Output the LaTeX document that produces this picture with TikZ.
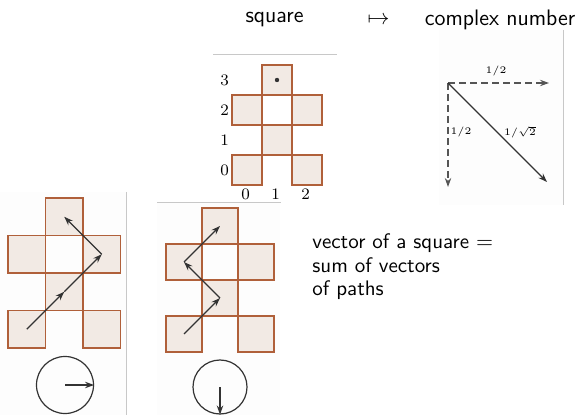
\documentclass[tikz,border=0pt]{standalone}
\usepackage{tikz}
\usetikzlibrary{arrows.meta, positioning}
\definecolor{cellfill}{HTML}{F2EAE4}
\definecolor{celledge}{HTML}{B0603A}
\definecolor{inkgray}{HTML}{333333}
\definecolor{dashgray}{HTML}{555555}
\definecolor{rulegray}{HTML}{C8C8C8}
\definecolor{panelbg}{HTML}{FDFDFD}
\tikzstyle{cell} = [draw=celledge, fill=cellfill, line width=0.7pt]
\tikzstyle{vec} = [-{Stealth[length=4.5pt, width=3.2pt]}, color=inkgray, line width=0.65pt]
\tikzstyle{halfvec} = [vec, color=dashgray, dash pattern=on 3.5pt off 2pt]
\tikzstyle{panelline} = [draw=rulegray, line width=0.5pt]
\tikzstyle{panel} = [fill=panelbg]
\tikzstyle{dial} = [circle, draw=inkgray, line width=0.6pt, inner sep=0pt]
\tikzstyle{lbl} = [font=\footnotesize, inner sep=1pt]
\tikzstyle{frac} = [font=\tiny, inner sep=1pt]
\tikzstyle{caption} = [font=\sffamily\fontsize{10.5}{11.75}\selectfont, inner sep=0pt]
\tikzstyle{heading} = [font=\sffamily\fontsize{11.2}{13}\selectfont, inner sep=0pt]

\begin{document}
\begin{tikzpicture}[x=0.5pt, y=-0.5pt]
    \useasboundingbox (0,0) rectangle (581,415);

    % Panels
    \fill[panel] (439,30) rectangle (563,205);
    \fill[panel] (0,192) rectangle (126,415);
    \fill[panel] (157,203) rectangle (280,415);
    \draw[panelline] (213,55) -- (337,55);
    \draw[panelline] (157,203) -- (281,203);
    \draw[panelline] (563,30) -- (563,205);
    \draw[panelline] (126,192) -- (126,415);

    % Header
    \node[heading] (sq) at (274.5,20) {square};
    \node[heading] (maps) at (378.5,20) {$\mapsto$};
    \node[heading] (cx) at (500,20) {complex number};

    % Labelled shape
    \begin{scope}[shift={(232,185)}, x=15pt, y=15pt]
      \foreach \c/\r in {1/3,0/2,2/2,1/1,0/0,2/0}
        \draw[cell] (\c,\r) rectangle ++(1,1);
      \foreach \r in {0,...,3}
        \node[lbl] (row\r) at (-0.25,\r+0.5) {$\r$};
      \foreach \c in {0,...,2}
        \node[lbl] (col\c) at (\c+0.45,-0.3) {$\c$};
      \fill[inkgray] (1.5,3.5) circle (1.1pt);
    \end{scope}

    % Unit vectors
    \coordinate (o) at (448,83);
    \coordinate (re) at (549,83);
    \coordinate (im) at (448,187);
    \coordinate (z) at (547,182);
    \draw[halfvec] (o) -- (re);
    \draw[halfvec] (o) -- (im);
    \draw[vec] (o) -- (z);
    \node[frac] (reLbl) at (496,71) {$1/2$};
    \node[frac] (imLbl) at (461,132) {$1/2$};
    \node[frac] (zLbl) at (520,132) {$1/\sqrt{2}$};

    % First path
    \begin{scope}[shift={(8,348)}, x=18.75pt, y=18.75pt]
      \foreach \c/\r in {1/3,0/2,2/2,1/1,0/0,2/0}
        \draw[cell] (\c,\r) rectangle ++(1,1);
      \coordinate (a0) at (0.5,0.5);
      \coordinate (a1) at (1.5,1.5);
      \coordinate (a2) at (2.5,2.5);
      \coordinate (a3) at (1.5,3.5);
    \end{scope}
    \draw[vec] (a0) -- (a1);
    \draw[vec] (a1) -- (a2);
    \draw[vec] (a2) -- (a3);
    \node[dial, minimum size=28.5pt] (dialA) at (65,385) {};
    \draw[vec] (dialA.center) -- (dialA.east);

    % Second path
    \begin{scope}[shift={(166,352)}, x=18pt, y=18pt]
      \foreach \c/\r in {1/3,0/2,2/2,1/1,0/0,2/0}
        \draw[cell] (\c,\r) rectangle ++(1,1);
      \coordinate (b0) at (0.5,0.5);
      \coordinate (b1) at (1.5,1.5);
      \coordinate (b2) at (0.5,2.5);
      \coordinate (b3) at (1.5,3.5);
    \end{scope}
    \draw[vec] (b0) -- (b1);
    \draw[vec] (b1) -- (b2);
    \draw[vec] (b2) -- (b3);
    \node[dial, minimum size=27pt] (dialB) at (220,387) {};
    \draw[vec] (dialB.center) -- (dialB.south);

    % Claim
    \node[caption, align=left, anchor=west] (claim) at (312,267)
      {vector of a square $=$\\sum of vectors\\of paths};
\end{tikzpicture}
\end{document}
